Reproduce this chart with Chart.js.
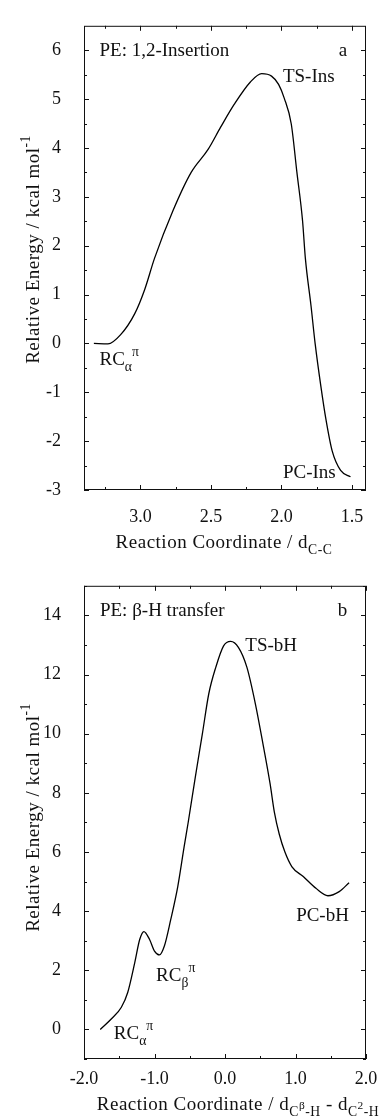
<!DOCTYPE html>
<html lang="en">
<head>
<meta charset="UTF-8">
<title>PE reaction profiles</title>
<script src="https://cdn.jsdelivr.net/npm/chart.js"></script>
<style>
  html, body { margin: 0; padding: 0; background: #fff; }
  body { width: 380px; height: 1119px; position: relative; overflow: hidden; }
  canvas { position: absolute; left: 0; }
  #chartA { top: 0; }
  #chartB { top: 560px; }
</style>
</head>
<body>
<canvas id="chartA" width="380" height="560"></canvas>
<canvas id="chartB" width="380" height="559"></canvas>
<script>
// panel a - 1,2-insertion, energy vs d(C-C)
const insCoord = [3.33, 3.23, 3.14, 3.04, 2.97, 2.90, 2.77, 2.64, 2.52, 2.43, 2.335, 2.22, 2.14, 2.07, 2.02, 1.98, 1.93, 1.89, 1.85, 1.83, 1.79, 1.76, 1.72, 1.685, 1.64, 1.58, 1.51];
const insEnergy = [0.00, -0.01, 0.18, 0.61, 1.10, 1.74, 2.71, 3.50, 3.97, 4.43, 4.89, 5.35, 5.52, 5.47, 5.30, 5.02, 4.49, 3.50, 2.51, 1.74, 0.77, -0.02, -0.88, -1.54, -2.20, -2.60, -2.73];
const insXTicks = [1.5, 2.0, 2.5, 3.0];
const insXMinor = [1.75, 2.25, 2.75, 3.25];
const insYTicks = [-3, -2, -1, 0, 1, 2, 3, 4, 5, 6];
const insYMinor = [-2.5, -1.5, -0.5, 0.5, 1.5, 2.5, 3.5, 4.5, 5.5];

// panel b - beta-H transfer
const bhCoord = [-1.77, -1.61, -1.47, -1.38, -1.28, -1.21, -1.15, -1.07, -1.00, -0.93, -0.86, -0.77, -0.67, -0.58, -0.52, -0.42, -0.32, -0.23, -0.13, -0.02, 0.08, 0.19, 0.31, 0.43, 0.545, 0.64, 0.70, 0.77, 0.85, 0.95, 1.11, 1.29, 1.46, 1.62, 1.76];
const bhEnergy = [0.00, 0.36, 0.75, 1.25, 2.26, 3.04, 3.31, 3.04, 2.65, 2.52, 2.82, 3.71, 4.83, 6.17, 7.03, 8.55, 10.01, 11.35, 12.25, 12.97, 13.12, 12.92, 12.25, 11.02, 9.57, 8.30, 7.35, 6.60, 6.00, 5.50, 5.17, 4.77, 4.52, 4.66, 4.96];
const bhXTicks = [-2, -1, 0, 1, 2];
const bhXMinor = [-1.5, -0.5, 0.5, 1.5];
const bhYTicks = [0, 2, 4, 6, 8, 10, 12, 14];
const bhYMinor = [-1, 1, 3, 5, 7, 9, 11, 13, 15];

const FONT = '"Liberation Serif", "Times New Roman", serif';

// parts: [text, mode]  mode: n normal, b subscript, p superscript, bp superscript inside subscript
function drawRich(ctx, x, y, parts, size, align, spacing) {
  const conf = {
    n: [1, 0],
    b: [0.72, 0.3],
    p: [0.72, -0.48],
    bp: [0.6, -0.05]
  };
  ctx.letterSpacing = (spacing || 0) + 'px';
  let w = 0;
  const widths = parts.map(([t, m]) => {
    ctx.font = (size * conf[m][0]) + 'px ' + FONT;
    const mw = ctx.measureText(t).width;
    w += mw;
    return mw;
  });
  let cx = align === 'center' ? x - w / 2 : x;
  ctx.textAlign = 'left';
  ctx.textBaseline = 'alphabetic';
  parts.forEach(([t, m], i) => {
    ctx.font = (size * conf[m][0]) + 'px ' + FONT;
    ctx.fillText(t, cx, y + size * conf[m][1]);
    cx += widths[i];
  });
  ctx.letterSpacing = '0px';
}

const framePlugin = {
  id: 'frame',
  afterDraw(chart, args, o) {
    const { ctx, chartArea: a, scales: { x, y } } = chart;
    ctx.save();
    ctx.strokeStyle = '#111';
    ctx.lineWidth = 1;
    ctx.strokeRect(a.left + 0.5, a.top + 0.5, a.right - a.left - 1, a.bottom - a.top - 1);
    ctx.beginPath();
    const tick = (vals, len) => {
      vals.forEach(v => {
        const px = Math.round(x.getPixelForValue(v)) + 0.5;
        ctx.moveTo(px, a.bottom); ctx.lineTo(px, a.bottom - len);
        ctx.moveTo(px, a.top); ctx.lineTo(px, a.top + len);
      });
    };
    const ytick = (vals, len) => {
      vals.forEach(v => {
        const py = Math.round(y.getPixelForValue(v)) + 0.5;
        ctx.moveTo(a.left, py); ctx.lineTo(a.left + len, py);
        ctx.moveTo(a.right, py); ctx.lineTo(a.right - len, py);
      });
    };
    tick(o.xMajor, 5); tick(o.xMinor, 3);
    ytick(o.yMajor, 5); ytick(o.yMinor, 3);
    ctx.stroke();

    ctx.fillStyle = '#111';
    // annotations anchored in data space
    o.labels.forEach(l => {
      drawRich(ctx, x.getPixelForValue(l.x), y.getPixelForValue(l.y), l.parts, 19, 'left', 0);
    });

    // axis titles
    const xt = o.xTitle;
    drawRich(ctx, xt.cx, xt.base, xt.parts, 19, 'center', 0.5);
    ctx.save();
    ctx.translate(39, o.yTitleCenter);
    ctx.rotate(-Math.PI / 2);
    drawRich(ctx, 0, 0, [['Relative Energy / kcal mol', 'n'], ['-1', 'p']], 19, 'center', 0.5);
    ctx.restore();
    ctx.restore();
  }
};

function makeChart(id, xs, ys, s) {
  const pts = xs.map((v, i) => ({ x: v, y: ys[i] }));
  return new Chart(document.getElementById(id), {
    type: 'line',
    data: {
      datasets: [{
        data: pts,
        borderColor: '#000',
        borderWidth: 1.3,
        pointRadius: 0,
        fill: false,
        cubicInterpolationMode: 'monotone'
      }]
    },
    options: {
      responsive: false,
      animation: false,
      layout: { padding: { top: s.top, right: 14, left: 0, bottom: 0 } },
      plugins: {
        legend: { display: false },
        tooltip: { enabled: false },
        frame: s.frame
      },
      scales: {
        x: {
          type: 'linear',
          min: s.xMin, max: s.xMax, reverse: s.reverse,
          grid: { display: false },
          border: { display: false },
          afterBuildTicks: sc => { sc.ticks = s.xTicks.map(v => ({ value: v })); },
          afterFit: sc => { sc.height = s.xHeight; },
          ticks: {
            padding: s.xPad,
            maxRotation: 0,
            color: '#111',
            font: { family: FONT, size: 18 },
            callback: v => v.toFixed(1)
          }
        },
        y: {
          min: s.yMin, max: s.yMax,
          grid: { display: false },
          border: { display: false },
          afterBuildTicks: sc => { sc.ticks = s.yTicks.map(v => ({ value: v })); },
          afterFit: sc => { sc.width = 84; },
          ticks: {
            padding: 15,
            color: '#111',
            font: { family: FONT, size: 18 },
            callback: v => String(v)
          }
        }
      }
    },
    plugins: [framePlugin]
  });
}

makeChart('chartA', insCoord, insEnergy, {
  top: 12, xHeight: 70, xPad: 8,
  xMin: 1.4, xMax: 3.4, reverse: true, yMin: -3, yMax: 6.5,
  xTicks: insXTicks, yTicks: insYTicks,
  frame: {
    xMajor: insXTicks, xMinor: insXMinor, yMajor: insYTicks, yMinor: insYMinor,
    labels: [
      { x: 3.29, y: 5.88, parts: [['PE: 1,2-Insertion', 'n']] },
      { x: 1.593, y: 5.88, parts: [['a', 'n']] },
      { x: 1.989, y: 5.35, parts: [['TS-Ins', 'n']] },
      { x: 3.29, y: -0.45, parts: [['RC', 'n'], ['\u03b1', 'b'], ['\u03c0', 'p']] },
      { x: 1.989, y: -2.75, parts: [['PC-Ins', 'n']] }
    ],
    xTitle: { cx: 224, base: 548.3, parts: [['Reaction Coordinate / d', 'n'], ['C-C', 'b']] },
    yTitleCenter: 249.5
  }
});

makeChart('chartB', bhCoord, bhEnergy, {
  top: 20, xHeight: 60, xPad: 1,
  xMin: -2, xMax: 2, reverse: false, yMin: -1, yMax: 15,
  xTicks: bhXTicks, yTicks: bhYTicks,
  frame: {
    xMajor: bhXTicks, xMinor: bhXMinor, yMajor: bhYTicks, yMinor: bhYMinor,
    labels: [
      { x: -1.774, y: 13.97, parts: [['PE: \u03b2-H transfer', 'n']] },
      { x: 1.60, y: 13.97, parts: [['b', 'n']] },
      { x: 0.288, y: 12.81, parts: [['TS-bH', 'n']] },
      { x: -0.977, y: 1.63, parts: [['RC', 'n'], ['\u03b2', 'b'], ['\u03c0', 'p']] },
      { x: -1.577, y: -0.33, parts: [['RC', 'n'], ['\u03b1', 'b'], ['\u03c0', 'p']] },
      { x: 1.009, y: 3.65, parts: [['PC-bH', 'n']] }
    ],
    xTitle: { cx: 238, base: 550, parts: [['Reaction Coordinate / d', 'n'], ['C', 'b'], ['\u03b2', 'bp'], ['-H', 'b'], [' - d', 'n'], ['C', 'b'], ['2', 'bp'], ['-H', 'b']] },
    yTitleCenter: 257.5
  }
});
</script>
</body>
</html>
